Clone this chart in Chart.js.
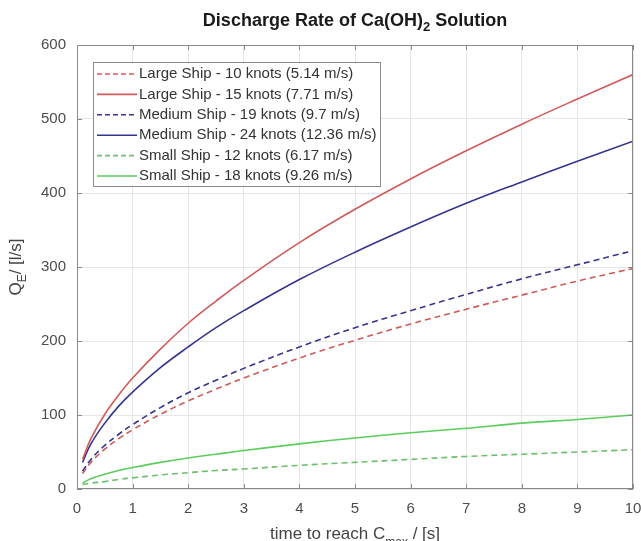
<!DOCTYPE html>
<html><head><meta charset="utf-8">
<script src="https://cdn.jsdelivr.net/npm/chart.js@4"></script>
<style>html,body{margin:0;padding:0;background:#fff}canvas{display:block}</style>
</head><body>
<canvas id="c" width="641" height="541"></canvas>
<script>
// ---- data ----
const timeS    = [0.1, 0.25, 0.5, 0.75, 1, 1.5, 2, 2.5, 3, 4, 5, 6, 7, 8, 9, 10];
const large10  = [21, 36, 54, 68, 80, 101, 119, 135, 150, 177, 201, 223, 243, 262, 281, 298];
const large15  = [40, 68, 101, 127, 150, 189, 224, 254, 282, 333, 378, 419, 457, 493, 527, 560];
const medium19 = [24, 40, 59, 74, 87, 110, 130, 147, 163, 192, 218, 241, 263, 284, 303, 322];
const medium24 = [36, 61, 89, 112, 131, 164, 192, 218, 241, 283, 320, 354, 386, 415, 443, 470];
const small12  = [6, 8, 10, 13, 15, 19, 22, 25, 27, 32, 36, 40, 44, 47, 50, 53];
const small18  = [8, 14, 20, 25, 29, 36, 42, 47, 52, 61, 69, 76, 82, 89, 94, 100];
const seriesLabels = [
  'Large Ship - 10 knots (5.14 m/s)',
  'Large Ship - 15 knots (7.71 m/s)',
  'Medium Ship - 19 knots (9.7 m/s)',
  'Medium Ship - 24 knots (12.36 m/s)',
  'Small Ship - 12 knots (6.17 m/s)',
  'Small Ship - 18 knots (9.26 m/s)'
];
const xTickValues = [0, 1, 2, 3, 4, 5, 6, 7, 8, 9, 10];
const yTickValues = [0, 100, 200, 300, 400, 500, 600];
const titleMain = 'Discharge Rate of Ca(OH)';
const titleSub = '2';
const titleEnd = ' Solution';
const yTitleMain = 'Q', yTitleSub = 'E', yTitleEnd = '/ [l/s]';
const xTitleMain = 'time to reach C', xTitleSub = 'max', xTitleEnd = ' / [s]';

// ---- styles ----
const RED = '#cf5a5a', BLUE = '#35358f', GREEN = '#5ccc5c', GREEN_D = '#6cbf6c';
const styles = [
  {c: RED, dash: [6, 4]}, {c: RED, dash: []},
  {c: BLUE, dash: [6, 4]}, {c: BLUE, dash: []},
  {c: GREEN_D, dash: [6, 4]}, {c: GREEN, dash: []}
];
const allSeries = [large10, large15, medium19, medium24, small12, small18];
const FONT = '"Liberation Sans", Arial, sans-serif';

const datasets = allSeries.map((s, i) => ({
  label: seriesLabels[i],
  data: s.map((v, k) => ({x: timeS[k], y: v})),
  borderColor: styles[i].c,
  borderDash: styles[i].dash,
  borderWidth: 1.6,
  pointRadius: 0,
  fill: false,
  tension: 0.4
}));

function drawSub(ctx, parts, x, y, align) {
  let total = 0;
  parts.forEach(p => { ctx.font = p.font; p.w = ctx.measureText(p.t).width; total += p.w; });
  let cx = align === 'center' ? x - total / 2 : x;
  parts.forEach(p => { ctx.font = p.font; ctx.fillText(p.t, cx, y + (p.dy || 0)); cx += p.w; });
}

const decor = {
  id: 'decor',
  afterDraw(chart) {
    const ctx = chart.ctx, a = chart.chartArea;
    const xs = chart.scales.x, ys = chart.scales.y;
    ctx.save();
    ctx.strokeStyle = '#8a8a8a'; ctx.lineWidth = 1;
    ctx.strokeRect(a.left + 0.5, a.top + 0.5, a.right - a.left - 1, a.bottom - a.top - 1);
    ctx.beginPath();
    xTickValues.forEach(v => {
      const px = Math.round(xs.getPixelForValue(v)) + 0.5;
      ctx.moveTo(px, a.bottom); ctx.lineTo(px, a.bottom - 5);
      ctx.moveTo(px, a.top); ctx.lineTo(px, a.top + 5);
    });
    yTickValues.forEach(v => {
      const py = Math.round(ys.getPixelForValue(v)) + 0.5;
      ctx.moveTo(a.left, py); ctx.lineTo(a.left + 5, py);
      ctx.moveTo(a.right, py); ctx.lineTo(a.right - 5, py);
    });
    ctx.stroke();

    ctx.fillStyle = '#1a1a1a'; ctx.textBaseline = 'alphabetic'; ctx.textAlign = 'left';
    drawSub(ctx, [
      {t: titleMain, font: 'bold 18px ' + FONT},
      {t: titleSub, font: 'bold 13px ' + FONT, dy: 5},
      {t: titleEnd, font: 'bold 18px ' + FONT}
    ], (a.left + a.right) / 2, 26, 'center');

    ctx.fillStyle = '#444';
    drawSub(ctx, [
      {t: xTitleMain, font: '17px ' + FONT},
      {t: xTitleSub, font: '12px ' + FONT, dy: 7},
      {t: xTitleEnd, font: '17px ' + FONT}
    ], (a.left + a.right) / 2, 539, 'center');
    ctx.save();
    ctx.translate(21, (a.top + a.bottom) / 2);
    ctx.rotate(-Math.PI / 2);
    drawSub(ctx, [
      {t: yTitleMain, font: '17px ' + FONT},
      {t: yTitleSub, font: '12px ' + FONT, dy: 5},
      {t: yTitleEnd, font: '17px ' + FONT}
    ], 0, 0, 'center');
    ctx.restore();

    const L = 93, T = 62, R = 380, B = 186;
    ctx.fillStyle = '#fff';
    ctx.fillRect(L, T, R - L, B - T);
    ctx.strokeStyle = '#8a8a8a'; ctx.lineWidth = 1; ctx.setLineDash([]);
    ctx.strokeRect(L + 0.5, T + 0.5, R - L, B - T);
    chart.data.datasets.forEach((ds, i) => {
      const y = T + 12 + i * 20.4;
      ctx.strokeStyle = ds.borderColor; ctx.lineWidth = 1.6;
      ctx.setLineDash(ds.borderDash.length ? [5, 3] : []);
      ctx.beginPath(); ctx.moveTo(97, y); ctx.lineTo(137, y); ctx.stroke();
      ctx.setLineDash([]);
      ctx.fillStyle = '#333'; ctx.font = '15px ' + FONT; ctx.textBaseline = 'middle';
      ctx.fillText(ds.label, 139, y);
    });
    ctx.restore();
  }
};

new Chart(document.getElementById('c'), {
  type: 'line',
  data: {datasets},
  options: {
    responsive: false,
    animation: false,
    layout: {padding: {left: 0, right: 8, top: 45, bottom: 0}},
    plugins: {legend: {display: false}, title: {display: false}, tooltip: {enabled: false}},
    scales: {
      x: {
        type: 'linear', min: 0, max: 10,
        afterFit(s) { s.height = 52; s.paddingLeft = 0; s.paddingRight = 0; },
        afterBuildTicks(s) { s.ticks = xTickValues.map(v => ({value: v})); },
        grid: {color: '#e6e6e6', drawTicks: false},
        border: {display: false},
        ticks: {padding: 11, color: '#4d4d4d', font: {family: FONT, size: 15}, maxRotation: 0}
      },
      y: {
        type: 'linear', min: 0, max: 600,
        afterFit(s) { s.width = 77; s.paddingTop = 0; s.paddingBottom = 0; },
        afterBuildTicks(s) { s.ticks = yTickValues.map(v => ({value: v})); },
        grid: {color: '#e6e6e6', drawTicks: false},
        border: {display: false},
        ticks: {padding: 11, color: '#4d4d4d', font: {family: FONT, size: 15}}
      }
    }
  },
  plugins: [decor]
});
</script>
</body></html>
